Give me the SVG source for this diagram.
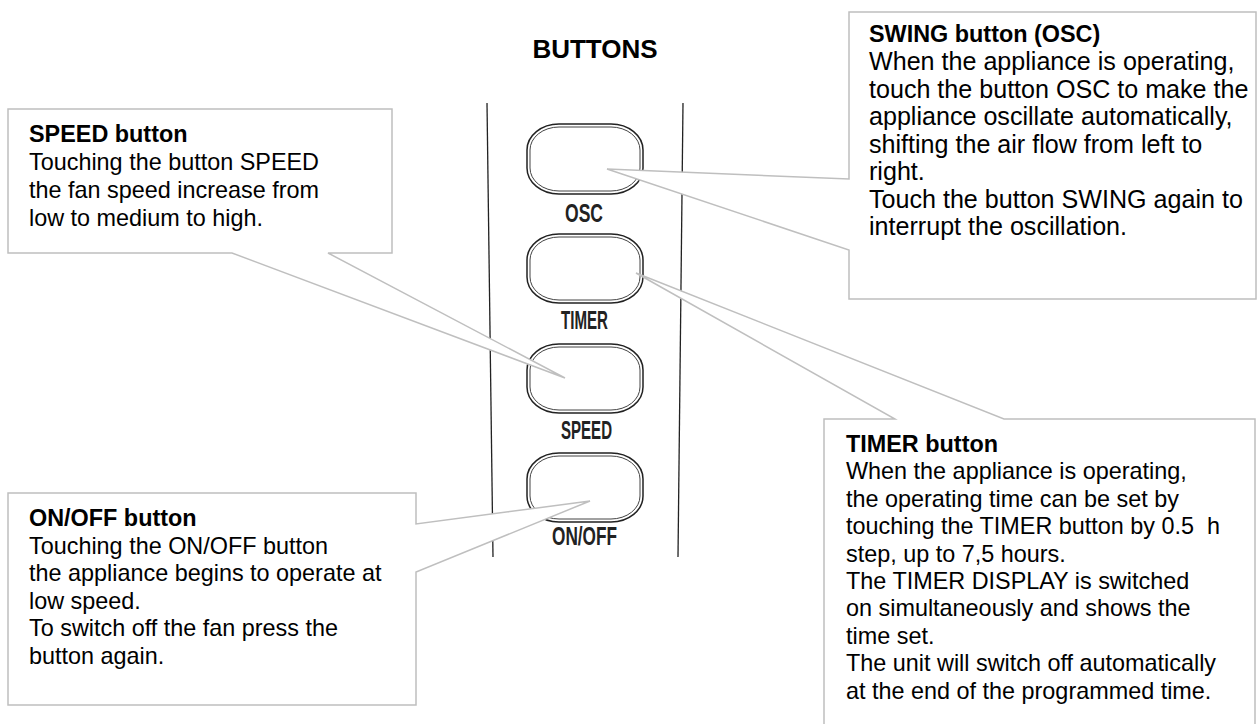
<svg xmlns="http://www.w3.org/2000/svg" width="1258" height="724" viewBox="0 0 1258 724">
<style>
.co{fill:#fff;stroke:#bfbfbf;stroke-width:1.5;stroke-linejoin:miter}
.t{font-family:"Liberation Sans",Arial,sans-serif;font-size:23.4px;fill:#000}
.tb{font-weight:bold}
.sw{font-size:25.1px}
.pl{stroke:#222;stroke-width:1.3;fill:none}
.bo{fill:#fff;stroke:#222;stroke-width:1.5}
.bi{fill:none;stroke:#444;stroke-width:1}
.lb{font-family:"Liberation Sans",Arial,sans-serif;font-size:25px;font-weight:bold;fill:#222}
.h{font-family:"Liberation Sans",Arial,sans-serif;font-size:26px;font-weight:bold;fill:#000}
</style>
<rect width="1258" height="724" fill="#fff"/>
<text class="h" x="595" y="58" text-anchor="middle">BUTTONS</text>
<g id="panel">
<line class="pl" x1="487" y1="103" x2="493" y2="557"/>
<line class="pl" x1="683" y1="103" x2="678" y2="557"/>
</g>
<g id="btn-osc">
<rect class="bo" x="527" y="124" width="116" height="70" rx="32" ry="26"/>
<rect class="bi" x="530" y="127" width="110" height="64" rx="29" ry="23"/>
<text class="lb" x="565" y="222" textLength="38" lengthAdjust="spacingAndGlyphs">OSC</text>
</g>
<g id="btn-timer">
<rect class="bo" x="527" y="234" width="116" height="69" rx="32" ry="26"/>
<rect class="bi" x="530" y="237" width="110" height="63" rx="29" ry="23"/>
<text class="lb" x="561" y="329" textLength="47" lengthAdjust="spacingAndGlyphs">TIMER</text>
</g>
<g id="btn-speed">
<rect class="bo" x="527" y="344" width="116" height="69" rx="32" ry="26"/>
<rect class="bi" x="530" y="347" width="110" height="63" rx="29" ry="23"/>
<text class="lb" x="561" y="439" textLength="51" lengthAdjust="spacingAndGlyphs">SPEED</text>
</g>
<g id="btn-onoff">
<rect class="bo" x="527" y="453" width="116" height="69" rx="32" ry="26"/>
<rect class="bi" x="530" y="456" width="110" height="63" rx="29" ry="23"/>
<text class="lb" x="552" y="545" textLength="65" lengthAdjust="spacingAndGlyphs">ON/OFF</text>
</g>
<g id="connectors">
<polygon class="co" points="849,12 1256,12 1256,299 849,299 849,250 607,169 849,179"/>
<polygon class="co" points="8,109 392,109 392,253 328,253 565,378 232,253 8,253"/>
<polygon class="co" points="8,493 416,493 416,524 590,501 416,572 416,705 8,705"/>
<polygon class="co" points="824,419 895,419 636,273 1004,419 1255,419 1255,730 824,730"/>
</g>
<g id="note-swing">
<text class="t tb" x="869" y="42">SWING button (OSC)</text>
<text class="t sw" x="869" y="70">When the appliance is operating,</text>
<text class="t sw" x="869" y="97.5">touch the button OSC to make the</text>
<text class="t sw" x="869" y="125">appliance oscillate automatically,</text>
<text class="t sw" x="869" y="152.5">shifting the air flow from left to</text>
<text class="t sw" x="869" y="180">right.</text>
<text class="t sw" x="869" y="207.5">Touch the button SWING again to</text>
<text class="t sw" x="869" y="235">interrupt the oscillation.</text>
</g>
<g id="note-speed">
<text class="t tb" x="29" y="142">SPEED button</text>
<text class="t" x="29" y="170">Touching the button SPEED</text>
<text class="t" x="29" y="198">the fan speed increase from</text>
<text class="t" x="29" y="225.5">low to medium to high.</text>
</g>
<g id="note-onoff">
<text class="t tb" x="29" y="526">ON/OFF button</text>
<text class="t" x="29" y="553.5">Touching the ON/OFF button</text>
<text class="t" x="29" y="581">the appliance begins to operate at</text>
<text class="t" x="29" y="608.5">low speed.</text>
<text class="t" x="29" y="636">To switch off the fan press the</text>
<text class="t" x="29" y="663.5">button again.</text>
</g>
<g id="note-timer">
<text class="t tb" x="846" y="452">TIMER button</text>
<text class="t" x="846" y="479.4">When the appliance is operating,</text>
<text class="t" x="846" y="506.8">the operating time can be set by</text>
<text class="t" x="846" y="534.2" style="white-space:pre">touching the TIMER button by 0.5  h</text>
<text class="t" x="846" y="561.6">step, up to 7,5 hours.</text>
<text class="t" x="846" y="589">The TIMER DISPLAY is switched</text>
<text class="t" x="846" y="616.4">on simultaneously and shows the</text>
<text class="t" x="846" y="643.8">time set.</text>
<text class="t" x="846" y="671.2">The unit will switch off automatically</text>
<text class="t" x="846" y="698.6">at the end of the programmed time.</text>
</g>
</svg>
